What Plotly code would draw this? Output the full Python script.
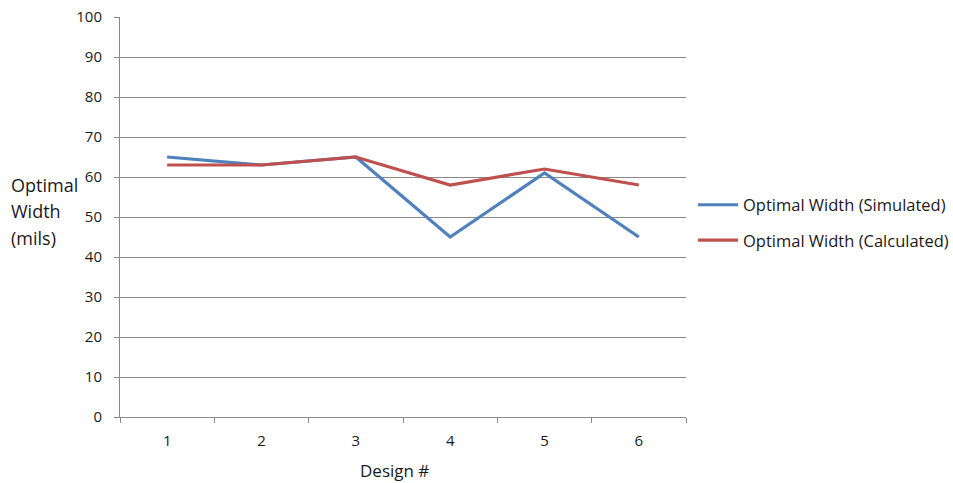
import plotly.graph_objects as go

designs = ["1", "2", "3", "4", "5", "6"]
width_simulated = [65, 63, 65, 45, 61, 45]
width_calculated = [63, 63, 65, 58, 62, 58]
y_ticks = [0, 10, 20, 30, 40, 50, 60, 70, 80, 90, 100]

FONT = "Open Sans"
TEXT = "#1a1a1a"
GRID = "#898989"

fig = go.Figure()
fig.add_trace(go.Scatter(
    x=designs, y=width_simulated, mode="lines",
    name="Optimal Width (Simulated)", legendgroup="sim",
    line=dict(color="#4F81BD", width=3.2),
))
fig.add_trace(go.Scatter(
    x=designs, y=width_calculated, mode="lines",
    name="Optimal Width (Calculated)", legendgroup="calc",
    line=dict(color="#C0504D", width=3.2),
))

fig.update_layout(
    width=953, height=483,
    margin=dict(l=120, r=267, t=17, b=66, autoexpand=False),
    paper_bgcolor="white", plot_bgcolor="white",
    font=dict(family=FONT, size=15, color=TEXT),
    showlegend=True,
    legend=dict(
        x=1.0 + 7 / 566, xanchor="left", y=0.5 - 5.5 / 400, yanchor="middle",
        xref="paper", yref="paper",
        font=dict(family=FONT, size=16.5, color=TEXT),
        itemwidth=40,
        tracegroupgap=11, bgcolor="rgba(0,0,0,0)",
    ),
    xaxis=dict(
        type="category", range=[-0.5, 5.5], automargin=False,
        tickson="boundaries", ticks="outside", ticklen=5, tickcolor=GRID,
        showline=True, linecolor=GRID, linewidth=1,
        showgrid=False, zeroline=False,
        tickfont=dict(family=FONT, size=15, color=TEXT),
        ticklabelstandoff=10,
    ),
    yaxis=dict(
        range=[0, 100], tickvals=y_ticks, automargin=False,
        ticks="outside", ticklen=5, tickcolor=GRID,
        showline=True, linecolor=GRID, linewidth=1,
        showgrid=True, gridcolor=GRID, gridwidth=1,
        zeroline=False,
        tickfont=dict(family=FONT, size=15, color=TEXT),
        ticklabelstandoff=9,
    ),
)

# x-axis title below the category labels
fig.add_annotation(
    text="Design #", xref="paper", yref="paper",
    x=(394 - 120) / 566, xanchor="center",
    y=-(470 - 417) / 400, yanchor="middle",
    showarrow=False,
    font=dict(family=FONT, size=17, color=TEXT),
)

# Horizontal three-line y-axis label on the left
for i, line in enumerate(["Optimal", "Width", "(mils)"]):
    fig.add_annotation(
        text=line, xref="paper", yref="paper",
        x=-120 / 566 + 9 / 566, xanchor="left",
        y=(417 - 185 - 26.5 * i) / 400, yanchor="middle",
        showarrow=False, align="left",
        font=dict(family=FONT, size=18, color=TEXT),
    )

fig.write_html("out.html")
